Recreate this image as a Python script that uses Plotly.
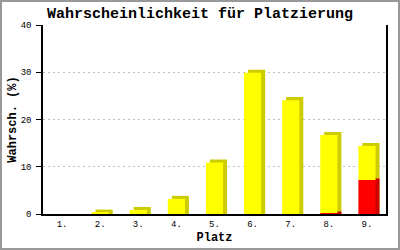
import plotly.graph_objects as go

categories = ["1.", "2.", "3.", "4.", "5.", "6.", "7.", "8.", "9."]
red_values = [0, 0, 0, 0, 0, 0, 0, 0.2, 7.2]
yellow_values = [0, 0.3, 0.85, 3.2, 10.9, 29.9, 24.1, 16.5, 7.2]
y_ticks = [0, 10, 20, 30, 40]

totals = [r + y for r, y in zip(red_values, yellow_values)]

W = 0.45      # bar width (category units)
DX = 0.105    # 3D depth, x (category units)
DY = 0.64     # 3D depth, y (value units)

shadow_total = [t + DY if t > 0 else 0 for t in totals]
shadow_red = [r + DY * 0.5 if r > 0 else 0 for r in red_values]

fig = go.Figure()
common = dict(width=W, marker_line_width=0, hoverinfo="skip")
fig.add_trace(go.Bar(x=categories, y=shadow_total, offset=-W / 2 + DX,
                     marker_color="#cccc00", **common))
fig.add_trace(go.Bar(x=categories, y=shadow_red, offset=-W / 2 + DX,
                     marker_color="#cc0000", **common))
fig.add_trace(go.Bar(x=categories, y=red_values, offset=-W / 2,
                     marker_color="#ff0000", **common))
fig.add_trace(go.Bar(x=categories, y=yellow_values, base=red_values, offset=-W / 2,
                     marker_color="#ffff00", **common))

mono = "Liberation Mono, DejaVu Sans Mono, monospace"
fig.update_layout(
    width=400, height=250,
    margin=dict(l=43, r=14, t=25, b=36, autoexpand=False),
    barmode="overlay",
    showlegend=False,
    paper_bgcolor="white", plot_bgcolor="white",
    title=dict(text="Wahrscheinlichkeit für Platzierung", x=0.5, xanchor="center",
               y=1 - 13 / 250, yanchor="middle", yref="container",
               font=dict(family=mono, size=15, color="black", weight="bold")),
    font=dict(family=mono, size=8, color="black"),
)
fig.update_xaxes(
    showline=True, linecolor="black", linewidth=1.5,
    showgrid=False, ticks="", tickfont=dict(family=mono, size=9, color="black"),
    title=dict(text="Platz", font=dict(family=mono, size=12, color="black", weight="bold"),
               standoff=4),
    automargin=False, fixedrange=True,
)
fig.update_yaxes(
    range=[0, 40], tickvals=y_ticks, showline=True, mirror=True,
    linecolor="black", linewidth=1.5,
    ticks="outside", ticklen=5, tickcolor="black", tickwidth=1,
    ticklabelstandoff=3,
    showgrid=True, gridcolor="#c0c0c0", griddash="2px,3px", gridwidth=1,
    zeroline=False,
    tickfont=dict(family=mono, size=9, color="black"),
    title=dict(text="Wahrsch. (%)", font=dict(family=mono, size=12, color="black", weight="bold"),
               standoff=1),
    automargin=False, fixedrange=True,
)
# outer frame of the image
fig.add_shape(type="rect", xref="paper", yref="paper",
              x0=-42 / 343, x1=356 / 343,
              y0=-35 / 189, y1=213 / 189,
              line=dict(color="#999999", width=2), fillcolor="rgba(0,0,0,0)", layer="below")

fig.write_html("out.html", config={"displayModeBar": False})
